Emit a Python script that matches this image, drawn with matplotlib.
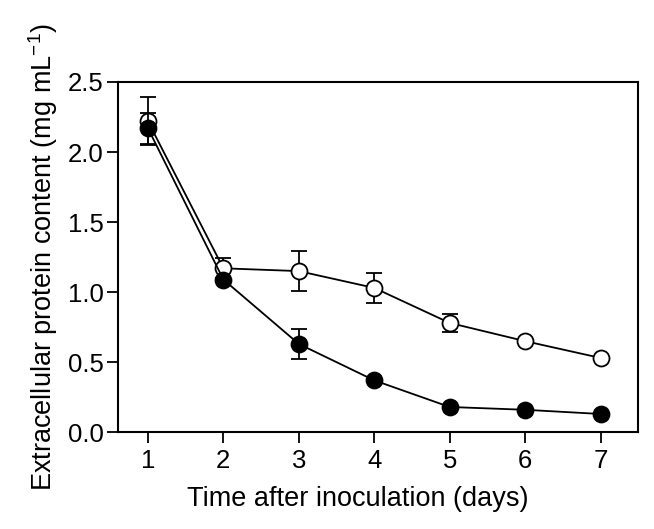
import matplotlib
matplotlib.use("Agg")
import matplotlib.pyplot as plt

plt.rcParams['font.family'] = ['Liberation Sans', 'DejaVu Sans']

days = [1, 2, 3, 4, 5, 6, 7]
open_vals = [2.22, 1.17, 1.15, 1.03, 0.78, 0.65, 0.53]
open_err = [0.17, 0.07, 0.145, 0.105, 0.065, 0.0, 0.0]
filled_vals = [2.17, 1.09, 0.63, 0.37, 0.18, 0.16, 0.13]
filled_err = [0.11, 0.0, 0.11, 0.0, 0.0, 0.0, 0.0]

fig = plt.figure(figsize=(6.54, 5.29), dpi=100)
ax = fig.add_axes([0.180, 0.183, 0.796, 0.662])

ax.errorbar(days, open_vals, yerr=open_err, color='black', lw=1.3,
            marker='o', ms=11.5, mfc='white', mec='black', mew=1.3,
            capsize=6, elinewidth=1.3, capthick=1.3, zorder=3)
ax.errorbar(days, filled_vals, yerr=filled_err, color='black', lw=1.3,
            marker='o', ms=11.5, mfc='black', mec='black', mew=1.3,
            capsize=6, elinewidth=1.3, capthick=1.3, zorder=4)

ax.set_xlim(0.6, 7.5)
ax.set_ylim(0, 2.5)
ax.set_xticks(days)
ax.set_yticks([0.0, 0.5, 1.0, 1.5, 2.0, 2.5])
ax.set_yticklabels(['0.0', '0.5', '1.0', '1.5', '2.0', '2.5'])
ax.tick_params(direction='out', length=8, width=1.3, labelsize=18.5, pad=4)
ax.tick_params(axis='y', pad=2)
for s in ax.spines.values():
    s.set_linewidth(1.5)

ax.set_xlabel('Time after inoculation (days)', fontsize=19.5)
ax.xaxis.set_label_coords(0.462, -0.155)
ax.set_ylabel('Extracellular protein content (mg mL$^{\\mathregular{-1}}$)', fontsize=19.5, labelpad=6)

fig.savefig('out.png', dpi=100)
